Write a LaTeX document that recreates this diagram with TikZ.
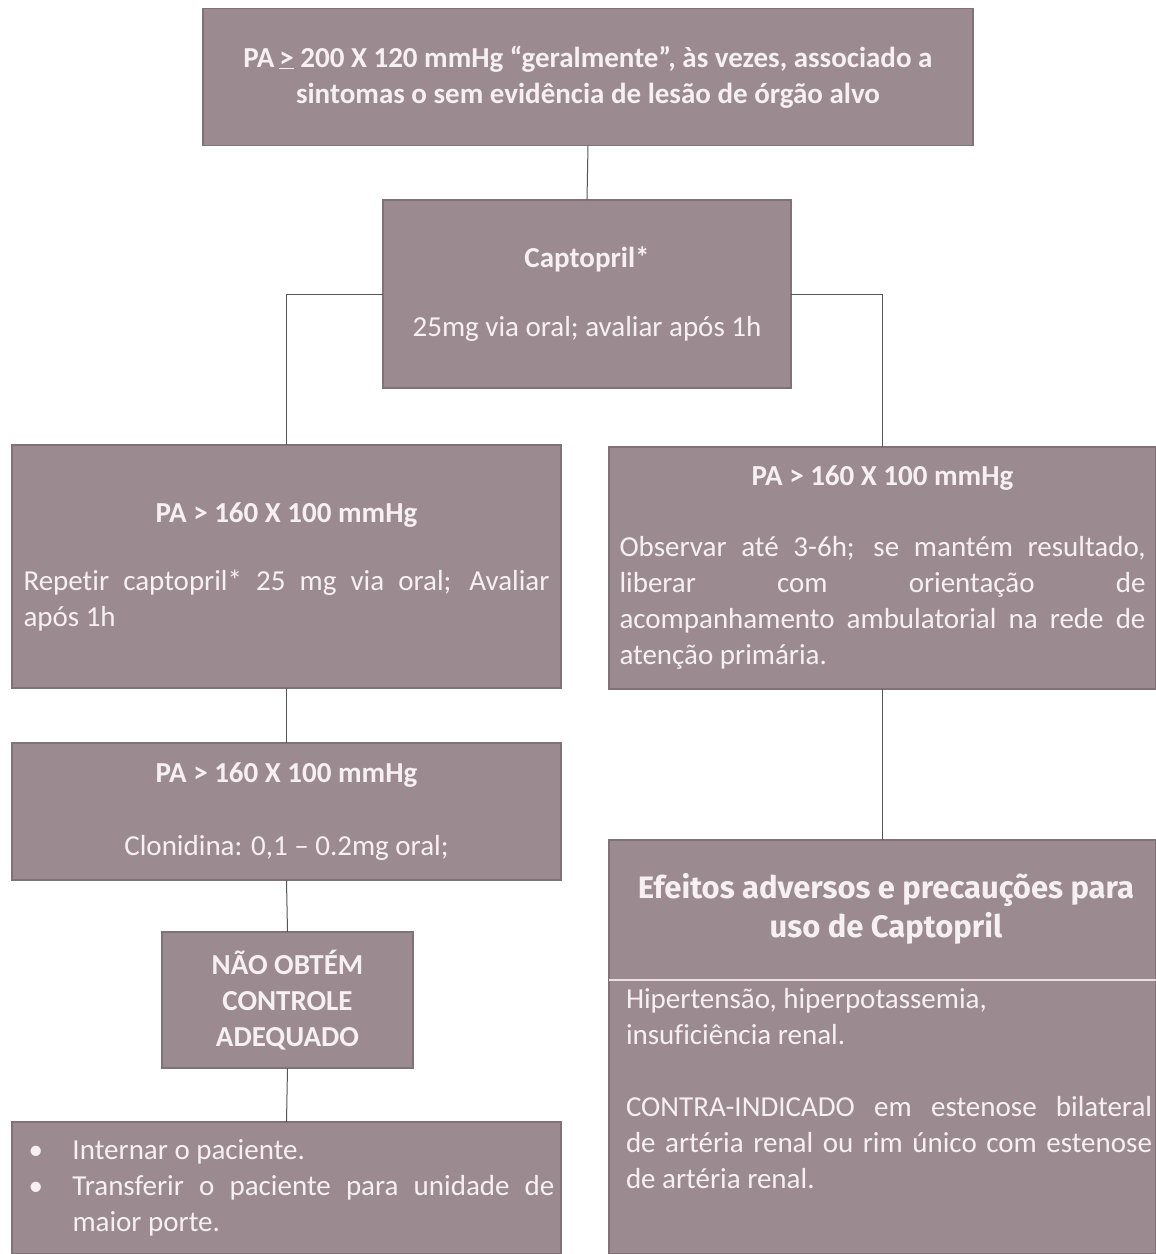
\documentclass[tikz,border=0pt]{standalone}
\usepackage{fontspec}
\setmainfont{Carlito}[Ligatures=NoCommon]
\newfontfamily\titlefont{Fira Sans}
\definecolor{boxfill}{RGB}{155,139,144}
\definecolor{boxedge}{RGB}{128,114,119}
\definecolor{boxtext}{RGB}{246,240,242}
\definecolor{linkcol}{RGB}{85,85,85}
\definecolor{seprule}{RGB}{232,224,227}
\tikzset{
  flowbox/.style={draw=boxedge, line width=1.5pt, fill=boxfill, text=boxtext, inner sep=0pt, outer sep=0pt, align=center, font=\fontsize{29}{36}\selectfont},
  link/.style={draw=linkcol, line width=1pt},
  txt/.style={text=boxtext, inner sep=0pt, outer sep=0pt}
}
\begin{document}
\begin{tikzpicture}[x=1pt,y=-1pt]
\useasboundingbox[fill=white] (0,0) rectangle (1156,1254);

\node[flowbox, minimum width=770pt, minimum height=137pt] (b1) at (588,77)
  {\bfseries PA\,\underline{>} 200 X 120 mmHg “geralmente”, às vezes, associado a\\ \bfseries sintomas o sem evidência de lesão de órgão alvo};

\node[flowbox, minimum width=408pt, minimum height=188pt] (b2) at (587,294)
  {\bfseries Captopril*\\[33pt] 25mg via oral; avaliar após 1h};

\node[flowbox, minimum width=549pt, minimum height=243pt] (b3) at (286.5,566.5)
  {\bfseries PA > 160 X 100 mmHg\\[32pt]
   \makebox[526pt][s]{Repetir captopril* 25 mg via oral; Avaliar}\\
   \makebox[526pt][l]{após 1h}};

\node[flowbox, minimum width=547pt, minimum height=242pt] (b4) at (882.5,568)
  {\bfseries PA > 160 X 100 mmHg\\[35pt]
   \makebox[526pt][s]{Observar até 3-6h; se mantém resultado,}\\
   \makebox[526pt][s]{liberar com orientação de}\\
   \makebox[526pt][s]{acompanhamento ambulatorial na rede de}\\
   \makebox[526pt][l]{atenção primária.}};

\node[flowbox, minimum width=549pt, minimum height=137pt] (b5) at (286.5,811.5)
  {\bfseries PA > 160 X 100 mmHg\\[37pt] Clonidina: 0,1 – 0.2mg oral;};

\node[flowbox, minimum width=251pt, minimum height=136pt] (b6) at (287.5,1000)
  {\bfseries NÃO OBTÉM\\ \bfseries CONTROLE\\ \bfseries ADEQUADO};

\node[flowbox, minimum width=549pt, minimum height=132pt] (b7) at (286.5,1188)
  {\makebox[540pt][l]{\makebox[56pt][l]{\hspace{12pt}•}Internar o paciente.}\\
   \makebox[540pt][l]{\makebox[56pt][l]{\hspace{12pt}•}\makebox[482pt][s]{Transferir o paciente para unidade de}}\\
   \makebox[540pt][l]{\hspace{56pt}maior porte.}};

\node[flowbox, minimum width=547pt, minimum height=414pt] (b8) at (882.5,1047) {};
\node[txt, align=center, font=\titlefont\bfseries\fontsize{31}{39}\selectfont] (b8title) at (886,909)
  {Efeitos adversos e precauções para\\ uso de Captopril};
\draw[draw=seprule, line width=1.5pt] (b8.west |- 0,980) coordinate (sepL) -- (b8.east |- 0,980) coordinate (sepR);
\node[txt, anchor=north west, align=left, font=\fontsize{29}{36}\selectfont] (b8body) at (626,988)
  {Hipertensão, hiperpotassemia,\\ insuficiência renal.\\[36pt]
   \makebox[526pt][s]{CONTRA-INDICADO em estenose bilateral}\\
   \makebox[526pt][s]{de artéria renal ou rim único com estenose}\\
   de artéria renal.};

\draw[link] (b1.south) -- (b2.north);
\draw[link] (b2.west) -| (b3.north);
\draw[link] (b2.east) -| (b4.north);
\draw[link] (b3.south) -- (b5.north);
\draw[link] (b5.south) -- (b6.north);
\draw[link] (b6.south) -- (b7.north);
\draw[link] (b4.south) -- (b8.north);
\end{tikzpicture}
\end{document}
